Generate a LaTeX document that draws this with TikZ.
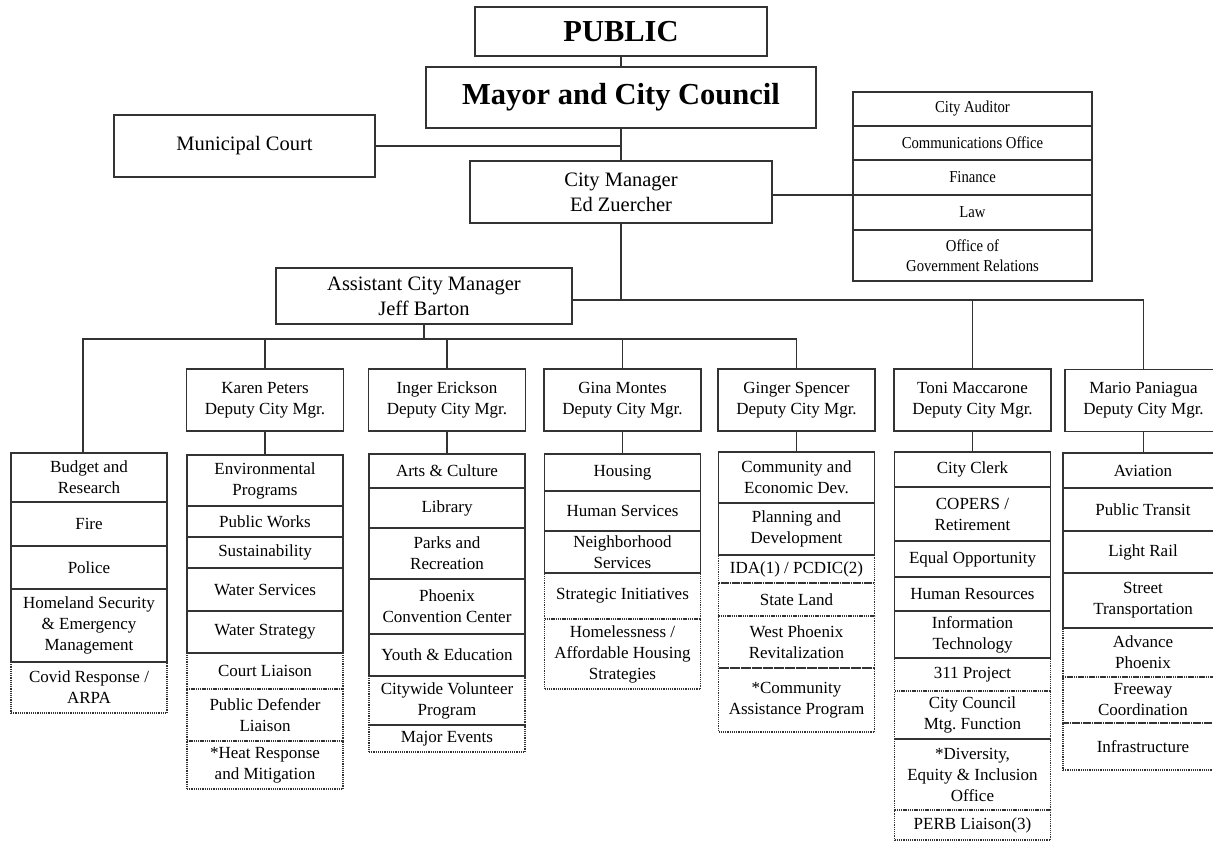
\documentclass[tikz,border=0pt]{standalone}
\usepackage{fontspec}
\setmainfont{Liberation Serif}
\newfontfamily\narrowserif[FakeStretch=0.88]{Liberation Serif}
\usepackage{tikz}
\usetikzlibrary{positioning}
\tikzset{
  orglink/.style={draw=black!80, line width=1.2pt},
  orgbox/.style={draw=black!80, line width=1.2pt, align=center,
                 inner sep=1pt, outer sep=0pt},
  headbox/.style={orgbox, font=\fontsize{30.5}{36}\selectfont\bfseries},
  mgrbox/.style={orgbox, font=\fontsize{20.5}{25}\selectfont},
  dcmbox/.style={orgbox, minimum width=157pt, minimum height=62pt,
                 font=\fontsize{17}{21}\selectfont},
  deptbox/.style={orgbox, minimum width=156pt, font=\fontsize{17}{21}\selectfont},
  adjbox/.style={deptbox, dash pattern=on 1.2pt off 1pt},
  staffbox/.style={orgbox, minimum width=239pt, font=\narrowserif\fontsize{16.7}{20}\selectfont}
}

\begin{document}
\begin{tikzpicture}[x=1pt, y=-1pt]
  \useasboundingbox (0,0) rectangle (1213,842);
  \fill[white] (0,0) rectangle (1213,842);
  \clip (0,0) rectangle (1213,842);

  \node[headbox, minimum width=292pt, minimum height=49pt] (public) at (621,31.5) {PUBLIC};
  \node[headbox, minimum width=390pt, minimum height=61pt] (mayor) at (621,97.5) {Mayor and City Council};
  \node[mgrbox, minimum width=261pt, minimum height=62pt] (court) at (244.5,146) {Municipal Court};
  \node[mgrbox, minimum width=302pt, minimum height=62pt] (cm) at (621,192) {City Manager\\Ed Zuercher};
  \node[mgrbox, minimum width=296pt, minimum height=56pt] (acm) at (424,296) {Assistant City Manager\\Jeff Barton};

  \node[staffbox, minimum height=34pt, anchor=north] (auditor) at (972.5,92) {City Auditor};
  \node[staffbox, minimum height=34pt, below=0pt of auditor] (comms) {Communications Office};
  \node[staffbox, minimum height=35pt, below=0pt of comms] (finance) {Finance};
  \node[staffbox, minimum height=35pt, below=0pt of finance] (law) {Law};
  \node[staffbox, minimum height=51pt, below=0pt of law] (ogr) {Office of\\Government Relations};

  \node[dcmbox] (peters) at (265,400) {Karen Peters\\Deputy City Mgr.};
  \node[dcmbox] (erickson) at (447,400) {Inger Erickson\\Deputy City Mgr.};
  \node[dcmbox] (montes) at (622.5,400) {Gina Montes\\Deputy City Mgr.};
  \node[dcmbox] (spencer) at (796.5,400) {Ginger Spencer\\Deputy City Mgr.};
  \node[dcmbox] (maccarone) at (972.5,400) {Toni Maccarone\\Deputy City Mgr.};
  \node[dcmbox] (paniagua) at (1143.5,400.5) {Mario Paniagua\\Deputy City Mgr.};

  % departments reporting to the assistant city manager
  \node[deptbox, minimum height=49pt, anchor=north] (budget) at (89,453) {Budget and\\Research};
  \node[deptbox, minimum height=44pt, below=0pt of budget] (fire) {Fire};
  \node[deptbox, minimum height=43pt, below=0pt of fire] (police) {Police};
  \node[deptbox, minimum height=73pt, below=0pt of police] (homeland) {Homeland Security\\\& Emergency\\Management};
  \node[adjbox, minimum height=51pt, below=0pt of homeland] (covid) {Covid Response /\\ARPA};

  \node[deptbox, minimum height=51pt, anchor=north] (envprog) at (265,455) {Environmental\\Programs};
  \node[deptbox, minimum height=31pt, below=0pt of envprog] (pworks) {Public Works};
  \node[deptbox, minimum height=31pt, below=0pt of pworks] (sustain) {Sustainability};
  \node[deptbox, minimum height=43pt, below=0pt of sustain] (watersvc) {Water Services};
  \node[deptbox, minimum height=42pt, below=0pt of watersvc] (waterstrat) {Water Strategy};
  \node[adjbox, minimum height=36pt, below=0pt of waterstrat] (courtlia) {Court Liaison};
  \node[adjbox, minimum height=52pt, below=0pt of courtlia] (defender) {Public Defender\\Liaison};
  \node[adjbox, minimum height=48pt, below=0pt of defender] (heat) {*Heat Response\\and Mitigation};

  \node[deptbox, minimum height=34pt, anchor=north] (arts) at (447,454) {Arts \& Culture};
  \node[deptbox, minimum height=40pt, below=0pt of arts] (library) {Library};
  \node[deptbox, minimum height=51pt, below=0pt of library] (parks) {Parks and\\Recreation};
  \node[deptbox, minimum height=55pt, below=0pt of parks] (pcc) {Phoenix\\Convention Center};
  \node[deptbox, minimum height=42pt, below=0pt of pcc] (youth) {Youth \& Education};
  \node[adjbox, minimum height=49pt, below=0pt of youth] (volunteer) {Citywide Volunteer\\Program};
  \node[adjbox, minimum height=27pt, below=0pt of volunteer] (events) {Major Events};

  \node[deptbox, minimum height=37pt, anchor=north] (housing) at (622.5,454) {Housing};
  \node[deptbox, minimum height=40pt, below=0pt of housing] (humansvc) {Human Services};
  \node[deptbox, minimum height=42pt, below=0pt of humansvc] (neighbor) {Neighborhood\\Services};
  \node[adjbox, minimum height=46pt, below=0pt of neighbor] (strategic) {Strategic Initiatives};
  \node[adjbox, minimum height=70pt, below=0pt of strategic] (homeless) {Homelessness /\\Affordable Housing\\Strategies};

  \node[deptbox, minimum height=51pt, anchor=north] (ced) at (796.5,452) {Community and\\Economic Dev.};
  \node[deptbox, minimum height=52pt, below=0pt of ced] (planning) {Planning and\\Development};
  \node[adjbox, minimum height=28pt, below=0pt of planning] (ida) {IDA(1) / PCDIC(2)};
  \node[adjbox, minimum height=33pt, below=0pt of ida] (stateland) {State Land};
  \node[adjbox, minimum height=52pt, below=0pt of stateland] (westphx) {West Phoenix\\Revitalization};
  \node[adjbox, minimum height=64pt, below=0pt of westphx] (assist) {*Community\\Assistance Program};

  \node[deptbox, minimum height=35pt, anchor=north] (clerk) at (972.5,452) {City Clerk};
  \node[deptbox, minimum height=54pt, below=0pt of clerk] (copers) {COPERS /\\Retirement};
  \node[deptbox, minimum height=36pt, below=0pt of copers] (equalopp) {Equal Opportunity};
  \node[deptbox, minimum height=34pt, below=0pt of equalopp] (hr) {Human Resources};
  \node[deptbox, minimum height=47pt, below=0pt of hr] (infotech) {Information\\Technology};
  \node[adjbox, minimum height=33pt, below=0pt of infotech] (proj311) {311 Project};
  \node[adjbox, minimum height=48pt, below=0pt of proj311] (council) {City Council\\Mtg.\ Function};
  \node[adjbox, minimum height=71pt, below=0pt of council] (diversity) {*Diversity,\\Equity \& Inclusion\\Office};
  \node[adjbox, minimum height=30pt, below=0pt of diversity] (perb) {PERB Liaison(3)};

  \node[deptbox, minimum width=160pt, minimum height=35pt, anchor=north] (aviation) at (1143,453) {Aviation};
  \node[deptbox, minimum width=160pt, minimum height=43pt, below=0pt of aviation] (transit) {Public Transit};
  \node[deptbox, minimum width=160pt, minimum height=42pt, below=0pt of transit] (lightrail) {Light Rail};
  \node[deptbox, minimum width=160pt, minimum height=55pt, below=0pt of lightrail] (streets) {Street\\Transportation};
  \node[adjbox, minimum width=160pt, minimum height=49pt, below=0pt of streets] (advance) {Advance\\Phoenix};
  \node[adjbox, minimum width=160pt, minimum height=46pt, below=0pt of advance] (freeway) {Freeway\\Coordination};
  \node[adjbox, minimum width=160pt, minimum height=47pt, below=0pt of freeway] (infra) {Infrastructure};

  % reporting lines
  \coordinate (tapA) at (621,300);
  \coordinate (tapB) at (424,339);
  \coordinate (tapL) at (83,339);
  \draw[orglink] (public) -- (mayor);
  \draw[orglink] (mayor) -- (cm);
  \draw[orglink] (court.east) -- (court.east -| mayor.south);
  \draw[orglink] (cm.east |- law.north west) -- (law.north west);
  \draw[orglink] (cm) -- (tapA);
  \draw[orglink] (acm.east |- tapA) -- (tapA -| paniagua.north) -- (paniagua.north);
  \draw[orglink] (tapA -| maccarone.north) -- (maccarone.north);
  \draw[orglink] (acm) -- (tapB);
  \draw[orglink] (budget.north -| tapL) -- (tapL) -- (tapB -| spencer.north) -- (spencer.north);
  \draw[orglink] (tapB -| peters.north) -- (peters.north);
  \draw[orglink] (tapB -| erickson.north) -- (erickson.north);
  \draw[orglink] (tapB -| montes.north) -- (montes.north);
  \draw[orglink] (peters) -- (envprog);
  \draw[orglink] (erickson) -- (arts);
  \draw[orglink] (montes) -- (housing);
  \draw[orglink] (spencer) -- (ced);
  \draw[orglink] (maccarone) -- (clerk);
  \draw[orglink] (paniagua.south) -- (paniagua.south |- aviation.north);
\end{tikzpicture}
\end{document}
